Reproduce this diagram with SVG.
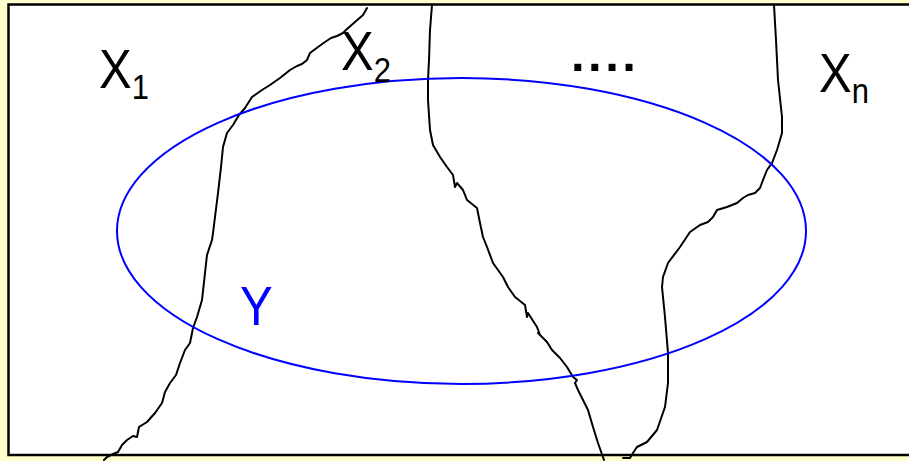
<svg xmlns="http://www.w3.org/2000/svg" width="909" height="461" viewBox="0 0 909 461">
<style>
.bd{fill:none;stroke:#000;stroke-width:2;stroke-linejoin:round;stroke-linecap:round}
.lbl{font-family:"Liberation Sans",Arial,sans-serif;font-size:49px;fill:#000}
.sub{font-size:31px}
</style>
<rect x="0" y="0" width="909" height="461" fill="#FFFFCC"/>
<g id="frame">
<rect x="8.5" y="4.5" width="912" height="450.5" fill="#fff" stroke="#000" stroke-width="2.5"/>
</g>
<g id="boundaries">
<polyline class="bd" points="367,8 363,15 355,22 347,29 343,33 337,36 331,38 325,42 318,47 310,53 307,60 302,64 297,66 290,70 280,78 270,85 262,90 252,97 245,108 239,115 233,125 227,133 223,147 221,167 218,193 215,217 213,233 212,240 207,255 205,273 202,300 197,317 193,328 190,343 185,350 180,363 176,375 170,383 165,392 162,403 155,413 147,422 139,427 137,437 133,436 127,440 122,445 118,452 113,454 107,457 104,460"/>
<polyline class="bd" points="432,5 430,30 429,60 428,80 428,100 430,130 433,145 440,157 447,167 453,175 455,187 457,183 463,190 467,200 477,208 480,223 483,237 487,247 493,263 503,277 508,287 515,297 525,305 527,317 528,313 537,327 540,335 538,333 547,342 552,350 560,358 567,367 573,377 577,380 575,383 578,390 588,410 593,427 598,443 604,460"/>
<polyline class="bd" points="774,5 776,40 778,80 782,117 782,133 777,150 772,163 767,170 763,180 760,188 755,193 748,195 743,198 737,203 727,207 717,210 713,217 708,222 700,225 690,232 680,247 668,263 663,277 662,287 665,317 668,353 668,383 665,407 657,430 647,442 637,447 633,453 630,458 623,458"/>
</g>
<g id="Y">
<ellipse cx="461.5" cy="231" rx="344.5" ry="153" fill="none" stroke="#0000FF" stroke-width="2"/>
<text class="lbl" transform="translate(240,325) scale(1,1.12)" style="fill:#0000FF">Y</text>
</g>
<g id="X1"><text class="lbl" transform="translate(99,88) scale(1,1.12)">X<tspan class="sub" dy="10">1</tspan></text></g>
<g id="X2"><text class="lbl" transform="translate(341,70) scale(1,1.12)">X<tspan class="sub" dy="11">2</tspan></text></g>
<g id="dots"><text class="lbl" x="571" y="71" font-weight="bold" letter-spacing="3.5">....</text></g>
<g id="Xn"><text class="lbl" transform="translate(819,92) scale(1,1.12)">X<tspan class="sub" dy="10">n</tspan></text></g>
</svg>
